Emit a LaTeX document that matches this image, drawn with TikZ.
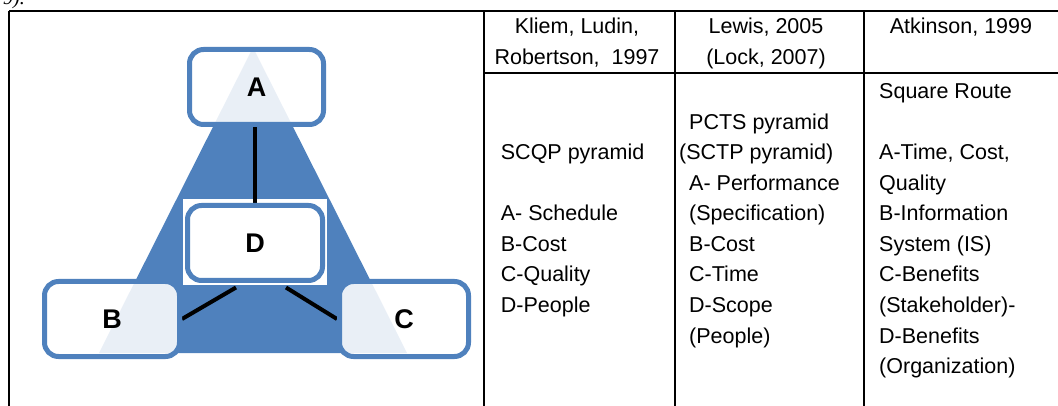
\documentclass[tikz,border=0pt]{standalone}
\usepackage{fontspec}
\setmainfont{Liberation Sans}
\newfontfamily\citefont{Liberation Serif}
\usetikzlibrary{calc}
\definecolor{pyrblue}{RGB}{79,129,189}
\begin{document}
\begin{tikzpicture}[x=1pt,y=-1pt,
  rule/.style={line width=2pt, black},
  cell/.style={anchor=base west, inner sep=0pt, font=\fontsize{21.5}{30.5}\selectfont},
  head/.style={anchor=base, inner sep=0pt, font=\fontsize{21.5}{30.5}\selectfont},
  letterbox/.style={rounded corners=14pt, draw=pyrblue, line width=5pt,
    fill=white, fill opacity=0.88, text opacity=1, inner sep=0pt,
    minimum width=135pt, minimum height=75pt,
    font=\bfseries\fontsize{27}{27}\selectfont},
  link/.style={line width=4pt, black}]
\useasboundingbox (0,0) rectangle (1058,406);

% tail of the preceding sentence
\node[anchor=base east, inner sep=0pt, font=\citefont\itshape\fontsize{20}{20}\selectfont] (prev) at (25,5) {9).};

% table rules
\draw[rule] (9,11) -- (1058,11);
\draw[rule] (9,11) -- (9,406);
\draw[rule] (484,11) -- (484,406);
\draw[rule] (675,11) -- (675,406);
\draw[rule] (864,11) -- (864,406);
\draw[rule] (484,73) -- (1058,73);

% pyramid
\fill[pyrblue] (253,47.5) -- (99,353) -- (407,353) -- cycle;
\node[fill=white, inner sep=0pt, minimum width=144pt, minimum height=86pt] (Dbg) at (255,242) {};

% positions of the corner boxes
\coordinate (Apos) at (256.5,87);
\coordinate (Bpos) at (112,319);
\coordinate (Cpos) at (404,319);
\coordinate (Dpos) at (255,243);
\path (Apos) node[letterbox, draw=none, fill=none, minimum width=134pt] (A) {}
      (Bpos) node[letterbox, draw=none, fill=none] (B) {}
      (Cpos) node[letterbox, draw=none, fill=none, minimum width=129pt] (C) {}
      (Dpos) node[letterbox, draw=none, fill=none] (D) {};

% connectors
\draw[link] (A.south -| D.north) -- (D.north);
\draw[link] ($(D.south)+(-19,4.5)$) -- (B.east);
\draw[link] ($(D.south)+(31,4.5)$) -- (C.west);

% boxes
\node[letterbox, minimum width=134pt] (Abox) at (A) {A};
\node[letterbox] (Bbox) at (B) {B};
\node[letterbox, minimum width=129pt] (Cbox) at (C) {C};
\node[letterbox, fill opacity=1] (Dbox) at (D) {D};

% header row
\node[head] (h1a) at (577,33.5) {Kliem, Ludin,};
\node[head] (h1b) at (577,64.5) {Robertson,~ 1997};
\node[head] (h2a) at (766,33.5) {Lewis, 2005};
\node[head] (h2b) at (766,64.5) {(Lock, 2007)};
\node[head] (h3a) at (961,33.5) {Atkinson, 1999};

% first column
\node[cell] (k1) at (500.7,160) {SCQP pyramid};
\node[cell] (k2) at (500.7,221) {A- Schedule};
\node[cell] (k3) at (500.7,251.5) {B-Cost};
\node[cell] (k4) at (500.7,282) {C-Quality};
\node[cell] (k5) at (500.7,312.5) {D-People};

% second column
\node[cell] (l1) at (689,129.5) {PCTS pyramid};
\node[cell] (l2) at (679,160) {(SCTP pyramid)};
\node[cell] (l3) at (689,190.5) {A- Performance};
\node[cell] (l4) at (689,221) {(Specification)};
\node[cell] (l5) at (689,251.5) {B-Cost};
\node[cell] (l6) at (689,282) {C-Time};
\node[cell] (l7) at (689,312.5) {D-Scope};
\node[cell] (l8) at (689,343) {(People)};

% third column
\node[cell] (m1) at (879,99) {Square Route};
\node[cell] (m2) at (879,160) {A-Time, Cost,};
\node[cell] (m3) at (879,190.5) {Quality};
\node[cell] (m4) at (879,221) {B-Information};
\node[cell] (m5) at (879,251.5) {System (IS)};
\node[cell] (m6) at (879,282) {C-Benefits};
\node[cell] (m7) at (879,312.5) {(Stakeholder)-};
\node[cell] (m8) at (879,343) {D-Benefits};
\node[cell] (m9) at (879,373.5) {(Organization)};
\end{tikzpicture}
\end{document}
